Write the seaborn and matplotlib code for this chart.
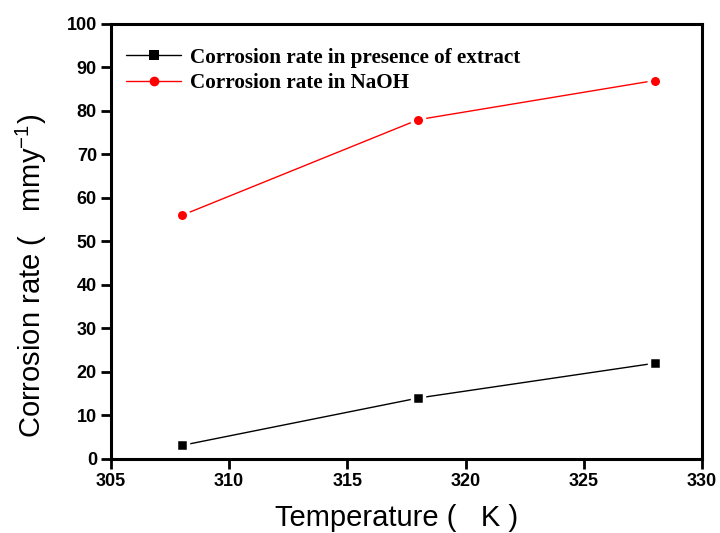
import matplotlib
matplotlib.use("Agg")
import matplotlib.pyplot as plt
import seaborn as sns
import pandas as pd

temperature = [308, 318, 328]
rate_extract = [3.1, 14.0, 22.0]
rate_naoh = [56.0, 78.0, 87.0]
series_names = ["Corrosion rate in presence of extract", "Corrosion rate in NaOH"]

df = pd.DataFrame({
    "Temperature": temperature * 2,
    "Rate": rate_extract + rate_naoh,
    "Series": [series_names[0]] * 3 + [series_names[1]] * 3,
})

sns.set_theme(style="ticks")
plt.rcParams["font.family"] = ["Liberation Sans", "DejaVu Sans"]

fig = plt.figure(figsize=(7.2, 5.33), dpi=100)
ax = fig.add_axes([0.154, 0.139, 0.821, 0.816])

sns.lineplot(
    data=df, x="Temperature", y="Rate", hue="Series", style="Series",
    palette={series_names[0]: "black", series_names[1]: "red"},
    markers={series_names[0]: "s", series_names[1]: "o"},
    dashes=False, linewidth=1.0, ax=ax,
    markersize=9, markeredgecolor="white", markeredgewidth=2.5,
)

ax.set_xlim(305, 330)
ax.set_ylim(0, 100)
ax.set_xticks(range(305, 331, 5))
ax.set_yticks(range(0, 101, 10))

for side in ["top", "right", "bottom", "left"]:
    ax.spines[side].set_visible(True)
    ax.spines[side].set_linewidth(2.2)
    ax.spines[side].set_color("black")

ax.tick_params(axis="both", direction="out", length=7, width=2, labelsize=13,
               colors="black", top=False, right=False, pad=3)
for lab in ax.get_xticklabels() + ax.get_yticklabels():
    lab.set_fontweight("bold")

ax.set_xlabel("Temperature (   K )", fontsize=21, color="black")
ax.set_ylabel("Corrosion rate (   mmy$^{\\mathregular{-1}}$)", fontsize=21, color="black")
ax.xaxis.set_label_coords(0.484, -0.103)
ax.yaxis.set_label_coords(-0.105, 0.42)

handles, labels = ax.get_legend_handles_labels()
for h in handles:
    h.set_markeredgewidth(0)
    h.set_markersize(7)
leg = ax.legend(handles, labels, loc="upper left", frameon=False,
                bbox_to_anchor=(0.012, 0.965), borderaxespad=0,
                handlelength=2.6, handletextpad=0.4, labelspacing=0.25,
                prop={"family": "Liberation Serif", "weight": "bold", "size": 15.2})
for t in leg.get_texts():
    t.set_color("black")

fig.savefig("out.png", dpi=100)
